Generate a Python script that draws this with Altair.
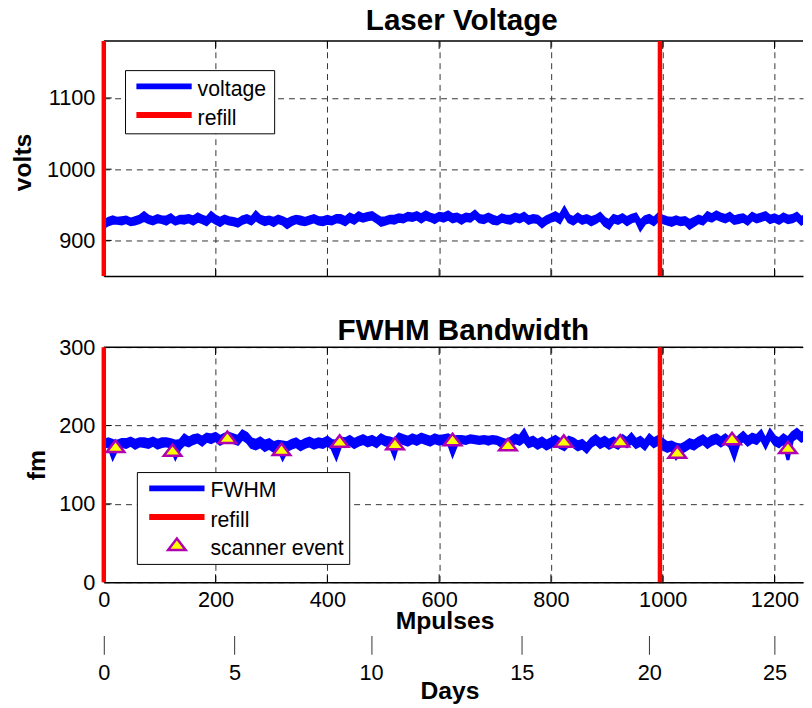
import altair as alt
import pandas as pd

# ---------------- data ----------------
mp_samples = [i * 8 for i in range(158)]  # Mpulses sample positions

# upper / lower envelope of the noisy voltage trace (volts)
volt_hi = [
    927, 931, 933, 931, 932, 933, 930, 932, 934, 939,
    934, 932, 935, 933, 933, 936, 931, 934, 934, 935,
    933, 937, 934, 932, 939, 934, 931, 934, 932, 931,
    929, 933, 935, 932, 940, 934, 932, 933, 931, 934,
    932, 929, 932, 934, 933, 931, 933, 935, 932, 932,
    934, 932, 935, 935, 932, 937, 934, 939, 936, 938,
    939, 935, 931, 932, 934, 934, 936, 935, 938, 937,
    939, 936, 940, 937, 935, 938, 937, 940, 936, 937,
    934, 937, 936, 941, 935, 934, 937, 934, 932, 936,
    934, 934, 937, 935, 938, 933, 935, 934, 929, 933,
    936, 939, 935, 946, 935, 932, 937, 933, 935, 932,
    934, 938, 931, 928, 935, 933, 936, 932, 935, 937,
    927, 933, 935, 931, 937, 934, 932, 931, 933, 931,
    932, 928, 931, 934, 932, 939, 936, 940, 937, 935,
    938, 933, 935, 936, 932, 938, 935, 937, 939, 934,
    936, 933, 937, 934, 935, 938, 932, 936,
]
volt_lo = [
    918, 922, 924, 924, 923, 925, 922, 923, 925, 928,
    925, 923, 926, 925, 923, 927, 923, 925, 924, 926,
    923, 927, 925, 922, 928, 924, 921, 925, 923, 922,
    920, 924, 926, 923, 929, 925, 922, 924, 921, 925,
    923, 918, 922, 925, 923, 922, 924, 926, 923, 922,
    924, 923, 926, 925, 922, 927, 924, 929, 927, 929,
    930, 926, 921, 923, 925, 924, 927, 926, 929, 928,
    930, 926, 930, 928, 925, 929, 927, 930, 926, 928,
    924, 928, 927, 932, 926, 925, 928, 924, 923, 927,
    925, 924, 928, 926, 929, 924, 926, 925, 919, 924,
    927, 929, 925, 936, 926, 923, 928, 924, 926, 922,
    925, 929, 921, 917, 926, 924, 927, 922, 926, 928,
    915, 924, 926, 922, 928, 925, 923, 921, 924, 922,
    923, 917, 921, 925, 923, 929, 927, 931, 928, 926,
    929, 924, 925, 927, 923, 929, 926, 928, 930, 925,
    927, 924, 928, 925, 926, 929, 923, 927,
]

# upper / lower envelope of the noisy FWHM trace (fm)
fwhm_hi = [
    181, 183, 181, 180, 182, 182, 184, 181, 183, 183,
    182, 184, 181, 183, 183, 182, 180, 181, 188, 184,
    187, 188, 185, 189, 188, 190, 186, 189, 190, 188,
    186, 193, 190, 183, 181, 184, 180, 182, 178, 180,
    179, 178, 181, 183, 179, 182, 184, 181, 183, 182,
    185, 181, 180, 184, 183, 186, 182, 185, 187, 184,
    186, 183, 188, 185, 184, 182, 189, 187, 185, 188,
    186, 189, 187, 185, 188, 186, 187, 188, 185, 186,
    186, 185, 187, 186, 185, 186, 185, 186, 185, 183,
    181, 184, 188, 186, 194, 183, 185, 181, 184, 180,
    183, 186, 182, 179, 185, 183, 179, 181, 176, 183,
    187, 182, 185, 181, 184, 181, 187, 183, 189, 182,
    185, 180, 188, 183, 186, 182, 178, 179, 176, 175,
    178, 182, 180, 184, 187, 182, 186, 188, 184, 188,
    183, 182, 186, 191, 185, 189, 187, 193, 182, 194,
    186, 183, 188, 184, 191, 195, 190, 193,
]
fwhm_lo = [
    172, 174, 158, 170, 173, 172, 175, 171, 174, 173,
    172, 175, 171, 173, 174, 172, 158, 170, 176, 174,
    177, 179, 175, 180, 178, 181, 176, 179, 181, 178,
    176, 183, 179, 172, 170, 173, 168, 171, 167, 170,
    157, 168, 171, 173, 169, 172, 174, 171, 173, 172,
    175, 171, 158, 174, 173, 176, 172, 175, 177, 174,
    176, 173, 178, 175, 174, 160, 179, 177, 175, 178,
    176, 179, 177, 175, 178, 176, 177, 178, 162, 176,
    178, 177, 179, 178, 177, 178, 176, 178, 177, 173,
    171, 174, 178, 176, 180, 173, 175, 171, 174, 170,
    173, 176, 172, 169, 175, 173, 169, 171, 166, 173,
    177, 172, 175, 171, 174, 171, 177, 173, 178, 172,
    175, 170, 178, 173, 176, 170, 167, 169, 158, 165,
    168, 172, 170, 174, 177, 172, 176, 178, 174, 178,
    173, 158, 176, 181, 175, 179, 177, 183, 172, 184,
    176, 173, 178, 156, 181, 185, 180, 183,
]

refill_mp = [0, 995]
scan_mp = [21, 123, 221, 318, 422, 521, 624, 723, 823, 924, 1026, 1124, 1224]
scan_fm = [173, 168, 184.5, 169, 179.5, 176.5, 181.6, 175, 179.5, 180, 165.6, 182.8, 171.5]

x_ticks = [0, 200, 400, 600, 800, 1000, 1200]
x_grid = [200, 400, 600, 800, 1000, 1200]
day_tick_mp = [0, 234, 478, 748, 976, 1200]
day_labels = ["0", "5", "10", "15", "20", "25"]
volt_ticks = [900, 1000, 1100]
fm_ticks = [0, 100, 200, 300]

# ---------------- style ----------------
W, H = 708, 238
FONT = "Liberation Sans"
BLUE, RED = "#0000FF", "#FF0000"
TRI_FILL, TRI_STROKE = "#FFFF00", "#B000B0"
GRID = "#333333"
TRI_PATH = "M-1,0.6L1,0.6L0,-0.7Z"

xscale = alt.Scale(domain=[0, 1251], nice=False, zero=False)

df_v = pd.DataFrame({"mp": mp_samples, "hi": volt_hi, "lo": volt_lo})
df_f = pd.DataFrame({"mp": mp_samples, "hi": fwhm_hi, "lo": fwhm_lo})
df_r = pd.DataFrame({"mp": refill_mp})
df_s = pd.DataFrame({"mp": scan_mp, "v": scan_fm})
df_xt = pd.DataFrame({"mp": x_grid})
df_days = pd.DataFrame({"mp": day_tick_mp})
one = pd.DataFrame({"a": [0]})


def common_layers(yscale, yticks_inner):
    """refill rules, inward ticks, frame top line"""
    refill = alt.Chart(df_r).mark_rule(color=RED, strokeWidth=4.5).encode(
        x=alt.X("mp:Q", scale=xscale, axis=None))
    xt_b = alt.Chart(df_xt).mark_rule(color="black", strokeWidth=1).encode(
        x=alt.X("mp:Q", scale=xscale, axis=None), y=alt.value(H), y2=alt.value(H - 8))
    xt_t = alt.Chart(df_xt).mark_rule(color="black", strokeWidth=1).encode(
        x=alt.X("mp:Q", scale=xscale, axis=None), y=alt.value(0), y2=alt.value(8))
    yt = alt.Chart(pd.DataFrame({"v": yticks_inner})).mark_rule(color="black", strokeWidth=1).encode(
        y=alt.Y("v:Q", scale=yscale, axis=None), x=alt.value(0), x2=alt.value(8))
    top = alt.Chart(one).mark_rule(color="black", strokeWidth=1.5).encode(
        y=alt.value(0), x=alt.value(0), x2=alt.value(W))
    return [xt_b, xt_t, yt, top, refill]


def legend_line(x1, x2, y, color):
    return alt.Chart(one).mark_rule(color=color, strokeWidth=6).encode(
        x=alt.value(x1), x2=alt.value(x2), y=alt.value(y))


def text_at(x, y, s, size=21.5, bold=False, align="left"):
    return alt.Chart(one).mark_text(align=align, baseline="alphabetic", fontSize=size,
                                    fontWeight="bold" if bold else "normal",
                                    font=FONT, color="black").encode(
        x=alt.value(x), y=alt.value(y), text=alt.value(s))


def legend_box(x1, x2, y1, y2):
    return alt.Chart(one).mark_rect(fill="white", stroke="black", strokeWidth=1).encode(
        x=alt.value(x1), x2=alt.value(x2), y=alt.value(y1), y2=alt.value(y2))


axis_common = dict(domainColor="black", domainWidth=1.5, ticks=False,
                   gridColor=GRID, gridDash=[6, 5], gridWidth=1, gridOpacity=1,
                   labelFont=FONT, labelFontSize=22, labelColor="black",
                   titleFont=FONT, titleFontSize=25, titleFontWeight="bold", titleColor="black")

# ---------------- top panel ----------------
yscale_top = alt.Scale(domain=[850, 1180], nice=False, zero=False)
v_band = alt.Chart(df_v).mark_area(color=BLUE, stroke=BLUE, strokeWidth=3, clip=True,
                                   opacity=1).encode(
    x=alt.X("mp:Q", scale=xscale,
            axis=alt.Axis(values=x_grid, labels=False, grid=True, title=None, **axis_common)),
    y=alt.Y("hi:Q", scale=yscale_top,
            axis=alt.Axis(values=volt_ticks, grid=True, labelPadding=9, title="volts",
                          format="d",
                          titleAngle=-90, titleX=-74, titleY=122.5, titleAlign="center",
                          titleBaseline="alphabetic", **axis_common)),
    y2="lo:Q",
)
top_panel = alt.layer(
    v_band, *common_layers(yscale_top, volt_ticks),
    legend_box(22, 173, 30, 94),
    legend_line(33, 89, 46, BLUE), legend_line(33, 89, 75, RED),
    text_at(95, 56, "voltage"), text_at(95, 85, "refill"),
    text_at(362.5, -11, "Laser Voltage", size=30, bold=True, align="center"),
).resolve_axis(x="independent", y="independent").properties(width=W, height=H)

# ---------------- bottom panel ----------------
yscale_bot = alt.Scale(domain=[0, 300], nice=False, zero=False)
f_band = alt.Chart(df_f).mark_area(color=BLUE, stroke=BLUE, strokeWidth=3, clip=True,
                                   opacity=1).encode(
    x=alt.X("mp:Q", scale=xscale,
            axis=alt.Axis(values=x_ticks, grid=True, labelPadding=8, title="Mpulses",
                          format="d", labelFlush=False,
                          titleX=345, titleY=47, titleAlign="center", titleBaseline="alphabetic",
                          **axis_common)),
    y=alt.Y("hi:Q", scale=yscale_bot,
            axis=alt.Axis(values=fm_ticks, grid=True, labelPadding=9, title="fm",
                          format="d",
                          titleAngle=-90, titleX=-60, titleY=119, titleAlign="center",
                          titleBaseline="alphabetic", **axis_common)),
    y2="lo:Q",
)
scan_pts = alt.Chart(df_s).mark_point(shape=TRI_PATH, size=317, filled=True, fill=TRI_FILL,
                                      stroke=TRI_STROKE, strokeWidth=2.5, opacity=1,
                                      fillOpacity=1, strokeJoin="miter").encode(
    x=alt.X("mp:Q", scale=xscale, axis=None),
    y=alt.Y("v:Q", scale=yscale_bot, axis=None),
)
days_axis = alt.Chart(df_days).mark_rule(opacity=0).encode(
    x=alt.X("mp:Q", scale=xscale,
            axis=alt.Axis(orient="bottom", offset=54, values=day_tick_mp,
                          labelExpr="%s[indexof(%s, datum.value)]" % (
                              str(day_labels), str(day_tick_mp)),
                          domain=False, ticks=True, tickSize=19, tickColor="#333333",
                          tickWidth=1, grid=False, labelPadding=9, labelFlush=False,
                          labelFont=FONT, labelFontSize=22, labelColor="black",
                          title="Days", titleFont=FONT, titleFontSize=25,
                          titleFontWeight="bold", titleColor="black",
                          titleX=350, titleY=64, titleAlign="center",
                          titleBaseline="alphabetic")),
)
legend_tri = alt.Chart(one).mark_point(shape=TRI_PATH, size=317, filled=True, fill=TRI_FILL,
                                       stroke=TRI_STROKE, strokeWidth=2.5, opacity=1,
                                       strokeJoin="miter").encode(
    x=alt.value(74), y=alt.value(200))

bottom_panel = alt.layer(
    f_band, *common_layers(yscale_bot, [100, 200]), scan_pts, days_axis,
    legend_box(34, 249, 127, 220),
    legend_line(46, 102, 143, BLUE), legend_line(46, 102, 172, RED), legend_tri,
    text_at(108, 152, "FWHM"), text_at(108, 182, "refill"),
    text_at(108, 210, "scanner event"),
    text_at(364, -7, "FWHM Bandwidth", size=30, bold=True, align="center"),
).resolve_axis(x="independent", y="independent").properties(width=W, height=H)

chart = alt.vconcat(top_panel, bottom_panel, spacing=38).configure_view(
    stroke=None).properties(padding={"left": 3, "top": -6, "right": 0, "bottom": 0},
                            background="white")

chart.save("out.html", embed_options={"renderer": "svg", "actions": False})
